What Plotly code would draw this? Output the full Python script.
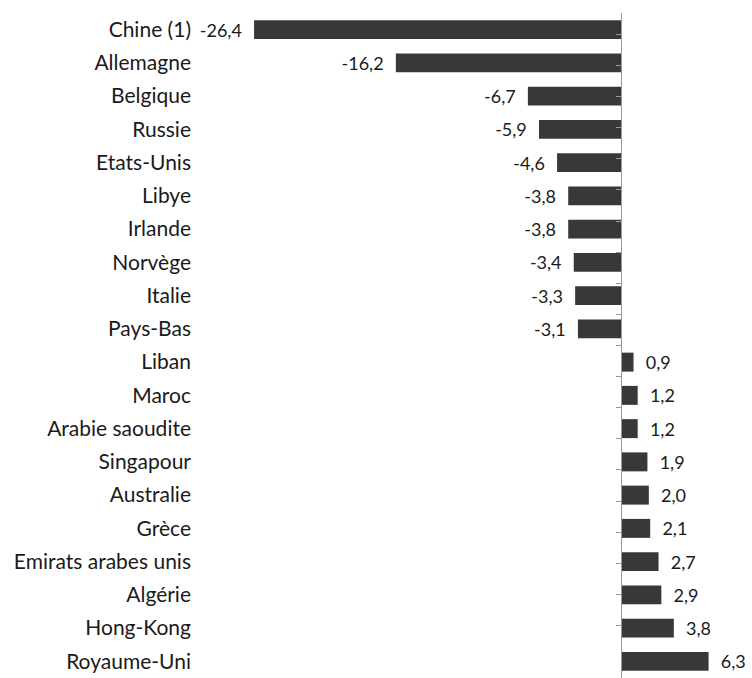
import plotly.graph_objects as go

countries = ["Chine (1)", "Allemagne", "Belgique", "Russie", "Etats-Unis", "Libye",
             "Irlande", "Norvège", "Italie", "Pays-Bas", "Liban", "Maroc",
             "Arabie saoudite", "Singapour", "Australie", "Grèce",
             "Emirats arabes unis", "Algérie", "Hong-Kong", "Royaume-Uni"]
values = [-26.4, -16.2, -6.7, -5.9, -4.6, -3.8, -3.8, -3.4, -3.3, -3.1,
          0.9, 1.2, 1.2, 1.9, 2.0, 2.1, 2.7, 2.9, 3.8, 6.3]

NB = "\u00a0"
def fmt(v):
    s = f"{v:.1f}".replace(".", ",")
    return (s + NB * 2) if v < 0 else (NB * 2 + s)

labels = [fmt(v) for v in values]

FONT = "Lato, 'Liberation Sans', sans-serif"
x0, x1 = -30.29, 8.56

fig = go.Figure()
fig.add_trace(go.Bar(
    x=values, y=countries, orientation="h",
    marker=dict(color="#383838", line=dict(width=0)),
    text=labels, textposition="outside", cliponaxis=False,
    constraintext="none",
    textfont=dict(family=FONT, size=18, color="#1a1a1a"),
    hoverinfo="skip",
))
# invisible helper trace for the zero axis with boundary ticks
fig.add_trace(go.Scatter(
    x=[0] * len(countries), y=countries, yaxis="y2", mode="markers",
    marker=dict(opacity=0), hoverinfo="skip", showlegend=False,
))

fig.update_layout(
    width=752, height=678,
    margin=dict(l=200, r=12, t=13, b=0, autoexpand=False),
    plot_bgcolor="white", paper_bgcolor="white",
    showlegend=False, bargap=0.43,
    xaxis=dict(range=[x0, x1], showgrid=False, zeroline=False,
               showticklabels=False, showline=False, fixedrange=True,
               automargin=False),
    yaxis=dict(categoryorder="array", categoryarray=countries,
               autorange="reversed", showgrid=False, showline=False,
               ticks="", ticklabelstandoff=8, automargin=False,
               tickfont=dict(family=FONT, size=21, color="#1a1a1a")),
    yaxis2=dict(categoryorder="array", categoryarray=countries,
                autorange="reversed", overlaying="y", anchor="free",
                position=-x0 / (x1 - x0), side="left", automargin=False,
                showline=True, linecolor="#999999", linewidth=1,
                ticks="outside", tickson="boundaries", ticklen=5,
                tickcolor="#999999", tickwidth=1,
                showticklabels=False, showgrid=False, zeroline=False),
)

fig.write_html(
    "out.html",
    config={"displayModeBar": False, "staticPlot": True},
    post_script="document.body.style.margin='0';document.body.style.overflow='hidden';",
)
